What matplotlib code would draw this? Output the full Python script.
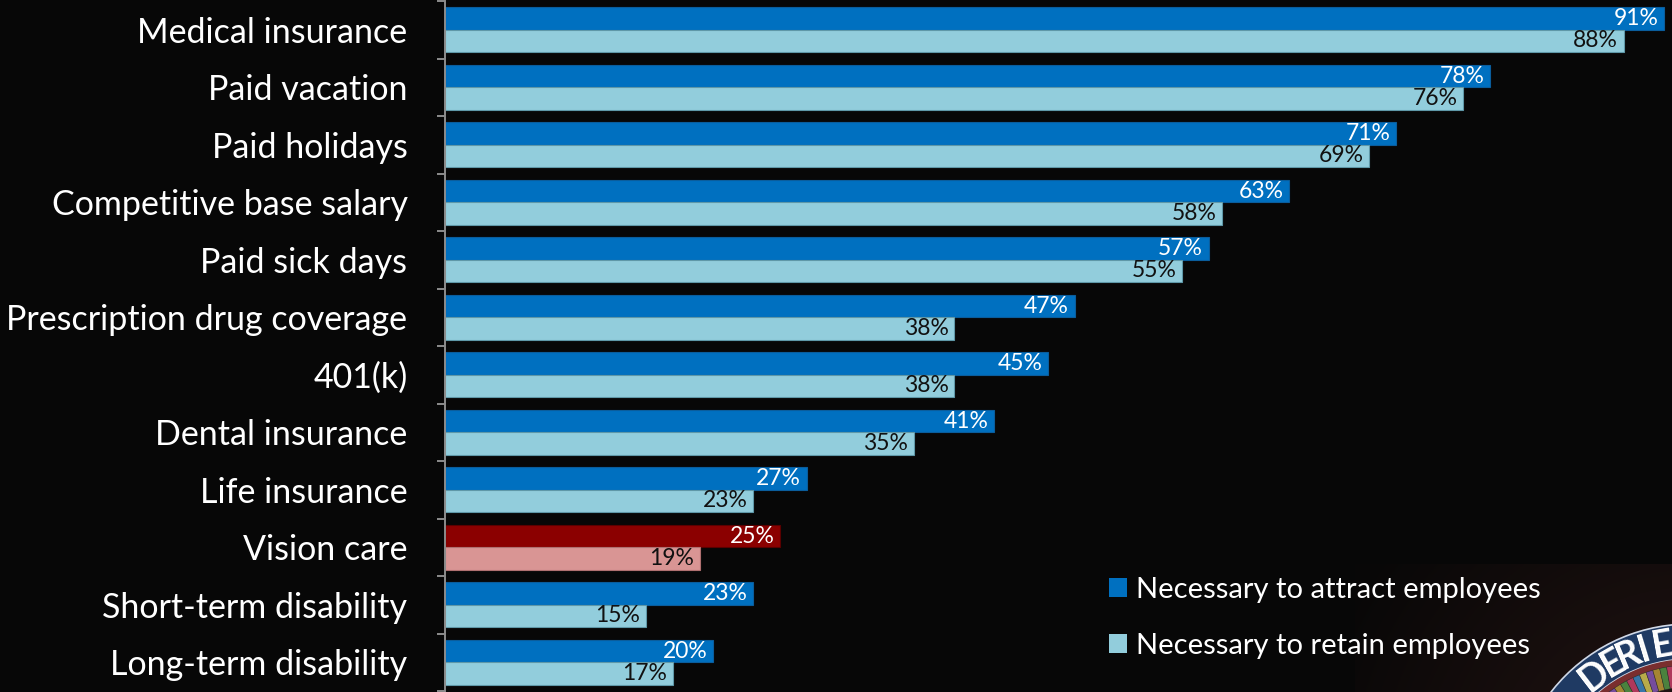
import matplotlib
matplotlib.use("Agg")
import matplotlib.pyplot as plt
import numpy as np
from matplotlib.patches import Patch, Wedge

plt.rcParams["font.family"] = ["Lato", "DejaVu Sans"]

BENEFITS = [
    "Medical insurance", "Paid vacation", "Paid holidays",
    "Competitive base salary", "Paid sick days",
    "Prescription drug coverage", "401(k)", "Dental insurance",
    "Life insurance", "Vision care", "Short-term disability",
    "Long-term disability",
]
ATTRACT = [91, 78, 71, 63, 57, 47, 45, 41, 27, 25, 23, 20]
RETAIN = [88, 76, 69, 58, 55, 38, 38, 35, 23, 19, 15, 17]
HIGHLIGHT = "Vision care"

BG = "#070707"
BLUE = "#0070C0"
LIGHT = "#92CDDC"
RED = "#8B0000"
PINK = "#D99594"

W, H = 1672, 692
fig = plt.figure(figsize=(W / 100, H / 100), dpi=100, facecolor=BG)

# soft glow behind the badge in the lower-right corner
ax_bg = fig.add_axes([0, 0, 1, 1], zorder=0)
ax_bg.set_xlim(0, W)
ax_bg.set_ylim(H, 0)
ax_bg.axis("off")
gx, gy = np.meshgrid(np.linspace(1355, W, 200), np.linspace(564, H, 80))
d = np.hypot(gx - 1690, gy - 790) / 380
glow = np.clip(1 - d, 0, 1)
rgb = np.zeros(gx.shape + (3,))
rgb[..., 0] = 0.035 + 0.11 * glow
rgb[..., 1] = 0.030 + 0.05 * glow
rgb[..., 2] = 0.030 + 0.045 * glow
ax_bg.imshow(rgb, extent=(1355, W, H, 564), aspect="auto", zorder=0)

# badge ring
cx, cy = 1690, 800
ax_bg.add_patch(Wedge((cx, cy), 176, 200, 300, width=35,
                      facecolor="#1f3a63", edgecolor="#d0d8e6", lw=1.2, zorder=1))
ax_bg.add_patch(Wedge((cx, cy), 141, 200, 300, width=6,
                      facecolor="#7a2e2e", edgecolor="none", zorder=1))
ring_cols = ["#c8a33c", "#57a04a", "#d5436f", "#3f8fd0", "#e0d35a", "#8c5cc0"]
for k, a0 in enumerate(range(200, 300, 3)):
    ax_bg.add_patch(Wedge((cx, cy), 135, a0, a0 + 3, width=22,
                          facecolor=ring_cols[k % len(ring_cols)],
                          edgecolor="#2a2a2a", lw=0.4, alpha=0.8, zorder=1))
for ch, ang in zip("DERIE", [232.5, 240.5, 247, 253, 260]):
    t = np.deg2rad(ang)
    r = 157
    ax_bg.text(cx + r * np.cos(t), cy + r * np.sin(t), ch, color="white",
               family=["Liberation Sans Narrow", "Lato"],
               fontsize=27, fontweight="bold", ha="center", va="center",
               rotation=270 - ang, zorder=2)

# main chart
left = 445 / W
ax = fig.add_axes([left, 1 / H, 1 - left, 690 / H], zorder=1)
ax.set_facecolor("none")

y = np.arange(len(BENEFITS))
bh = 0.39
c_att = [RED if b == HIGHLIGHT else BLUE for b in BENEFITS]
c_ret = [PINK if b == HIGHLIGHT else LIGHT for b in BENEFITS]
e_att = ["#5a0000" if b == HIGHLIGHT else "#0a5d9c" for b in BENEFITS]
e_ret = ["#b07070" if b == HIGHLIGHT else "#5f98a8" for b in BENEFITS]

ax.barh(y - bh / 2, ATTRACT, height=bh, color=c_att, edgecolor=e_att, lw=0.8)
ax.barh(y + bh / 2, RETAIN, height=bh, color=c_ret, edgecolor=e_ret, lw=0.8)

for yi, v in zip(y, ATTRACT):
    ax.annotate(f"{v}%", (v, yi - bh / 2), xytext=(-4, 0),
                textcoords="offset points", ha="right", va="center",
                color="white", fontsize=16.5)
for yi, v in zip(y, RETAIN):
    ax.annotate(f"{v}%", (v, yi + bh / 2), xytext=(-4, 0),
                textcoords="offset points", ha="right", va="center",
                color="#111111", fontsize=16.5)

ax.set_xlim(0, 91.6)
ax.set_ylim(len(BENEFITS) - 0.5, -0.5)
ax.set_xticks([])

# ticks between categories, labels centred on each pair of bars
ax.set_yticks(np.arange(-0.5, len(BENEFITS)), labels=[])
ax.set_yticks(y, labels=BENEFITS, minor=True)
ax.tick_params(axis="y", which="major", length=6, width=1.4,
               color="#8c8c8c", direction="out")
ax.tick_params(axis="y", which="minor", length=0, pad=27,
               labelsize=24.5, labelcolor="white")
for s in ("top", "right", "bottom"):
    ax.spines[s].set_visible(False)
ax.spines["left"].set_color("#8c8c8c")
ax.spines["left"].set_linewidth(1.4)

handles = [Patch(facecolor=BLUE), Patch(facecolor=LIGHT)]
leg = fig.legend(handles,
                 ["Necessary to attract employees",
                  "Necessary to retain employees"],
                 loc="center left", bbox_to_anchor=(1109 / W, 1 - 618 / H),
                 frameon=False, fontsize=21, labelcolor="white",
                 borderpad=0, borderaxespad=0,
                 handlelength=0.62, handleheight=0.62, handletextpad=0.31,
                 labelspacing=1.04)

fig.savefig("out.png", dpi=100, facecolor=BG)
